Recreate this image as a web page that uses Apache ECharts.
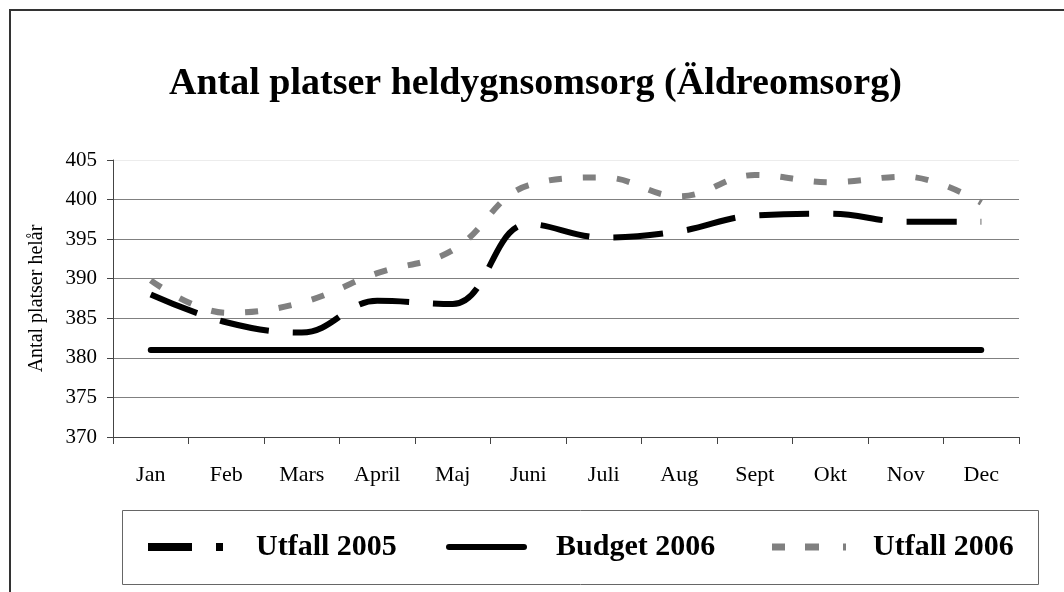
<!DOCTYPE html>
<html>
<head>
<meta charset="utf-8">
<script src="https://cdn.jsdelivr.net/npm/echarts@6/dist/echarts.min.js"></script>
<style>
html,body{margin:0;padding:0;background:#fff;}
#chart{width:1064px;height:592px;}
</style>
</head>
<body>
<div id="chart"></div>
<script>
const months = ['Jan','Feb','Mars','April','Maj','Juni','Juli','Aug','Sept','Okt','Nov','Dec'];
const utfall2005 = [388, 384.5, 383.2, 387.2, 386.8, 396.9, 395.2, 396.0, 398.0, 398.2, 397.2, 397.2];
const budget2006 = [381, 381, 381, 381, 381, 381, 381, 381, 381, 381, 381, 381];
const utfall2006 = [389.8, 385.7, 387.0, 390.7, 393.6, 401.8, 402.8, 400.4, 403.1, 402.2, 402.9, 399.6];
const yTicks = {min: 370, max: 405, step: 5};

const FONT = 'Liberation Serif';
const chart = echarts.init(document.getElementById('chart'), null, {renderer: 'canvas'});

const legendBase = {
  top: 532,
  padding: 0,
  orient: 'horizontal',
  selectedMode: false,
  symbolKeepAspect: false,
  itemStyle: {borderWidth: 0},
  textStyle: {fontFamily: FONT, fontWeight: 'bold', fontSize: 30, color: '#000'}
};

chart.setOption({
  backgroundColor: '#fff',
  animation: false,
  title: {
    text: 'Antal platser heldygnsomsorg (Äldreomsorg)',
    left: 169,
    top: 65,
    padding: 0,
    textStyle: {fontFamily: FONT, fontWeight: 'bold', fontSize: 38, color: '#000'}
  },
  graphic: [
    {type: 'rect', shape: {x: 10, y: 10, width: 1080, height: 600},
     style: {fill: null, stroke: '#333', lineWidth: 2}, silent: true, z: -1},
    {type: 'rect', shape: {x: 122.5, y: 510.5, width: 916, height: 74},
     style: {fill: null, stroke: '#666', lineWidth: 1}, silent: true, z: -1}
  ],
  legend: [
    Object.assign({}, legendBase, {
      left: 148, itemWidth: 75, itemHeight: 8,
      data: [{name: 'Utfall 2005', icon: 'path://M0,0H44V8H0Z M68,0H75V8H68Z',
              textStyle: {padding: [0, 0, 0, 28]}}]
    }),
    Object.assign({}, legendBase, {
      left: 446, itemWidth: 81, itemHeight: 6,
      data: [{name: 'Budget 2006', icon: 'path://M3,0H78A3,3 0 0 1 78,6H3A3,3 0 0 1 3,0Z',
              textStyle: {padding: [0, 0, 0, 24]}}]
    }),
    Object.assign({}, legendBase, {
      left: 772, itemWidth: 74, itemHeight: 7,
      data: [{name: 'Utfall 2006', icon: 'path://M0,0H13V7H0Z M33,0H47V7H33Z M71,0H74V7H71Z',
              textStyle: {padding: [0, 0, 0, 22]}}]
    })
  ],
  grid: {left: 113, right: 45, top: 160, bottom: 155, containLabel: false, outerBoundsMode: 'none'},
  xAxis: {
    type: 'category',
    data: months,
    boundaryGap: true,
    axisLine: {show: true, lineStyle: {color: '#444', width: 1}},
    axisTick: {show: true, length: 7, inside: false, alignWithLabel: false, interval: 0, lineStyle: {color: '#444'}},
    axisLabel: {interval: 0, margin: 27, fontFamily: FONT, fontSize: 22, color: '#000'},
    splitLine: {show: false}
  },
  yAxis: {
    type: 'value',
    min: yTicks.min,
    max: yTicks.max,
    interval: yTicks.step,
    name: 'Antal platser helår',
    nameLocation: 'middle',
    nameGap: 66,
    nameRotate: 90,
    nameTextStyle: {fontFamily: FONT, fontSize: 20, color: '#000'},
    axisLine: {show: true, lineStyle: {color: '#444', width: 1}},
    axisTick: {show: true, length: 6, inside: false, lineStyle: {color: '#444'}},
    axisLabel: {margin: 16, fontFamily: FONT, fontSize: 21, color: '#000'},
    splitLine: {show: true, lineStyle: {color: ['#808080','#808080','#808080','#808080','#808080','#808080','#808080','#ececec'], width: 1}}
  },
  series: [
    {
      name: 'Utfall 2005', type: 'line', data: utfall2005, smooth: 0.4,
      symbol: 'none', showSymbol: false, color: '#000', z: 3,
      lineStyle: {color: '#000', width: 6, type: [50, 24], cap: 'butt'}
    },
    {
      name: 'Budget 2006', type: 'line', data: budget2006, smooth: false,
      symbol: 'none', showSymbol: false, color: '#000', z: 2,
      lineStyle: {color: '#000', width: 6, type: 'solid', cap: 'round'}
    },
    {
      name: 'Utfall 2006', type: 'line', data: utfall2006, smooth: 0.4,
      symbol: 'none', showSymbol: false, color: '#808080', z: 4,
      lineStyle: {color: '#808080', width: 6, type: [13, 21], cap: 'butt'}
    }
  ]
});
</script>
</body>
</html>
